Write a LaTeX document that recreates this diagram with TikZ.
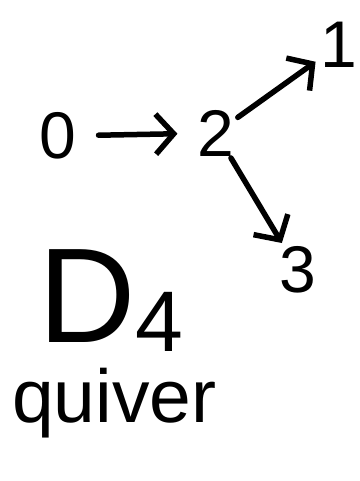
\documentclass[tikz,border=0pt]{standalone}
\usepackage{fontspec}
\setmainfont{Liberation Sans}
\usetikzlibrary{arrows.meta}
\begin{document}
\begin{tikzpicture}[x=1pt,y=-1pt,
  vertex/.style={inner sep=0pt,font=\fontsize{66}{66}\selectfont},
  link/.style={line width=5.5pt,line cap=round,line join=round,
    -{Straight Barb[length=18pt,width=40pt,line width=5.5pt]}}]
  \useasboundingbox (0,0) rectangle (359,481);
  % vertices of the quiver
  \node[vertex] (v0) at (58,136) {0};
  \node[vertex] (v2) at (216,133) {2};
  \node[vertex] (v1) at (339,45) {1};
  \node[vertex] (v3) at (298,270) {3};
  % arrows
  \draw[link,shorten <=22pt,shorten >=20pt] (v0) -- (v2);
  \draw[link,shorten <=4pt,shorten >=6pt] (v2) -- (v1);
  \draw[link,shorten <=2pt,shorten >=4pt] (v2) -- (v3);
  % caption
  \node[inner sep=0pt,anchor=base west,font=\fontsize{135}{135}\selectfont]
    (title) at (38,342) {D\raisebox{-9pt}{\fontsize{86}{86}\selectfont 4}};
  \node[inner sep=0pt,anchor=base west,font=\fontsize{75}{75}\selectfont]
    (word) at (12,422) {quiver};
\end{tikzpicture}
\end{document}
